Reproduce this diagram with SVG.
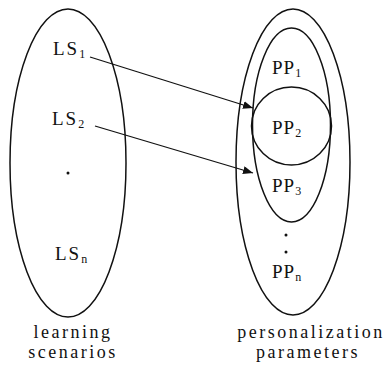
<svg xmlns="http://www.w3.org/2000/svg" width="390" height="365" viewBox="0 0 390 365">
<style>
.sh{fill:none;stroke:#111;stroke-width:1.5}
text{font-family:"Liberation Serif","DejaVu Serif","Times New Roman",serif;fill:#111}
.t{font-size:19px}
.lb{font-size:18px;letter-spacing:2.5px;text-anchor:middle}
.ln{fill:none;stroke:#111;stroke-width:1.3}
</style>
<defs>
<marker id="ah" viewBox="0 0 10 8" refX="10" refY="4" markerWidth="10" markerHeight="8" markerUnits="userSpaceOnUse" orient="auto">
<path d="M0,0 L10,4 L0,8 Z" fill="#111"/>
</marker>
</defs>
<rect width="390" height="365" fill="#fff"/>
<g id="learning-scenarios">
<ellipse class="sh" cx="68" cy="163" rx="58" ry="154"/>
<text class="t" x="53" y="55" letter-spacing="2">LS<tspan font-size="12" dy="3">1</tspan></text>
<text class="t" x="52" y="125" letter-spacing="2">LS<tspan font-size="12" dy="3">2</tspan></text>
<circle cx="68" cy="173" r="1.5" fill="#111"/>
<text class="t" x="55" y="260" letter-spacing="2">LS<tspan font-size="12" dy="3">n</tspan></text>
<text class="lb" x="73" y="338">learning</text>
<text class="lb" x="73" y="358">scenarios</text>
</g>
<g id="personalization-parameters">
<ellipse class="sh" cx="293" cy="162" rx="57" ry="153"/>
<text class="lb" x="311" y="338">personalization</text>
<text class="lb" x="308" y="358">parameters</text>
<circle cx="286" cy="235" r="1.5" fill="#111"/>
<circle cx="286" cy="252" r="1.5" fill="#111"/>
<text class="t" x="272" y="278" letter-spacing="1">PP<tspan font-size="12" dy="3">n</tspan></text>
</g>
<g id="pp1-pp3">
<ellipse class="sh" cx="291.5" cy="125" rx="39" ry="97"/>
<text class="t" x="272" y="74" letter-spacing="1">PP<tspan font-size="12" dy="3">1</tspan></text>
<text class="t" x="272" y="192" letter-spacing="1">PP<tspan font-size="12" dy="3">3</tspan></text>
</g>
<g id="pp2">
<ellipse class="sh" cx="291.5" cy="126" rx="40" ry="39"/>
<text class="t" x="272" y="134" letter-spacing="1">PP<tspan font-size="12" dy="3">2</tspan></text>
</g>
<g id="connectors">
<line class="ln" x1="90" y1="57" x2="253" y2="108" marker-end="url(#ah)"/>
<line class="ln" x1="95" y1="126" x2="253" y2="173" marker-end="url(#ah)"/>
</g>
</svg>
